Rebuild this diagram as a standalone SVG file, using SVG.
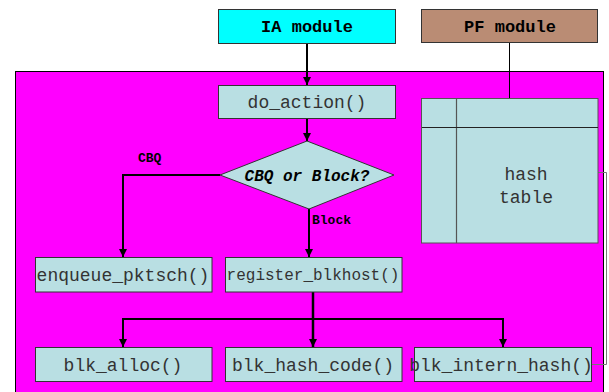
<svg xmlns="http://www.w3.org/2000/svg" width="609" height="392" viewBox="0 0 609 392">
<defs>
<marker id="arr" viewBox="0 0 10 10" refX="10" refY="5" markerWidth="8" markerHeight="8" markerUnits="userSpaceOnUse" orient="auto">
<path d="M0,0 L10,5 L0,10 z" fill="#000"/>
</marker>
<style>
.box{fill:#b9dfe3;stroke:#333;stroke-width:1}
.fn{font-family:"Courier New","Nimbus Mono PS","FreeMono","Liberation Mono",monospace;font-size:18px;fill:#333;text-anchor:middle}
.title{font-family:"Courier New","Nimbus Mono PS","FreeMono","Liberation Mono",monospace;font-size:17px;font-weight:bold;fill:#000;text-anchor:middle}
.lbl{font-family:"Courier New","Nimbus Mono PS","FreeMono","Liberation Mono",monospace;font-size:13px;font-weight:bold;fill:#000}
.q{font-family:"Courier New","Nimbus Mono PS","FreeMono","Liberation Mono",monospace;font-size:16px;font-weight:bold;font-style:italic;fill:#000;text-anchor:middle}
.con{fill:none;stroke:#000;stroke-width:2}
</style>
</defs>
<rect x="0" y="0" width="609" height="392" fill="#fff"/>
<rect id="container" x="15.5" y="71.5" width="588" height="330" fill="#ff00ff" stroke="#000" stroke-width="1"/>

<g id="connectors">
<line class="con" x1="307" y1="43" x2="307" y2="85" marker-end="url(#arr)"/>
<line class="con" x1="307" y1="119" x2="307" y2="141" marker-end="url(#arr)"/>
<polyline class="con" points="220,175 123,175 123,257" marker-end="url(#arr)"/>
<line class="con" x1="309" y1="209" x2="309" y2="257" marker-end="url(#arr)"/>
<line class="con" x1="313" y1="292" x2="313" y2="347" marker-end="url(#arr)" style="stroke-width:2.5"/>
<polyline class="con" points="123,347 123,319 503,319 503,347" marker-end="url(#arr)"/>
<polyline class="con" points="123,319 123,347" marker-end="url(#arr)"/>
<line x1="509.5" y1="43" x2="509.5" y2="99" stroke="#000" stroke-width="1"/>
<polyline points="598,172.5 606.5,172.5 606.5,364.5 592,364.5" fill="none" stroke="#777" stroke-width="1"/>
<text class="lbl" x="138" y="162">CBQ</text>
<text class="lbl" x="312" y="224">Block</text>
</g>

<g id="ia-module">
<rect x="218.5" y="9.5" width="177" height="34" fill="#00ffff" stroke="#333"/>
<text class="title" x="307" y="32">IA module</text>
</g>
<g id="pf-module">
<rect x="421.5" y="9.5" width="176" height="33" fill="#ba8c74" stroke="#333"/>
<text class="title" x="510" y="32">PF module</text>
</g>
<g id="do-action">
<rect class="box" x="218.5" y="85.5" width="177" height="33"/>
<text class="fn" x="307" y="108">do_action()</text>
</g>
<g id="decision">
<polygon points="220,175 307,141 394,175 309,209" fill="#b9dfe3" stroke="#333"/>
<text class="q" x="307" y="181">CBQ or Block?</text>
</g>
<g id="hash-table">
<rect class="box" x="421.5" y="98.5" width="176.5" height="144.5" style="stroke:#555"/>
<line x1="456.5" y1="99" x2="456.5" y2="243" stroke="#555" stroke-width="1.2"/>
<line x1="422" y1="127.5" x2="598" y2="127.5" stroke="#222" stroke-width="1"/>
<text class="fn" x="526" y="180">hash</text>
<text class="fn" x="526" y="203">table</text>
</g>
<g id="enqueue">
<rect class="box" x="35.5" y="257.5" width="176.5" height="34.5"/>
<text class="fn" x="123" y="281">enqueue_pktsch()</text>
</g>
<g id="register">
<rect class="box" x="225.5" y="257.5" width="176.5" height="34.5"/>
<text class="fn" x="313" y="280" style="font-size:16px">register_blkhost()</text>
</g>
<g id="blk-alloc">
<rect class="box" x="35.5" y="347.5" width="176.5" height="34"/>
<text class="fn" x="123" y="371">blk_alloc()</text>
</g>
<g id="blk-hash-code">
<rect class="box" x="225.5" y="347.5" width="176.5" height="34"/>
<text class="fn" x="313" y="371">blk_hash_code()</text>
</g>
<g id="blk-intern-hash">
<rect class="box" x="414.5" y="347.5" width="177" height="34"/>
<text class="fn" x="501" y="371">blk_intern_hash()</text>
</g>
</svg>
